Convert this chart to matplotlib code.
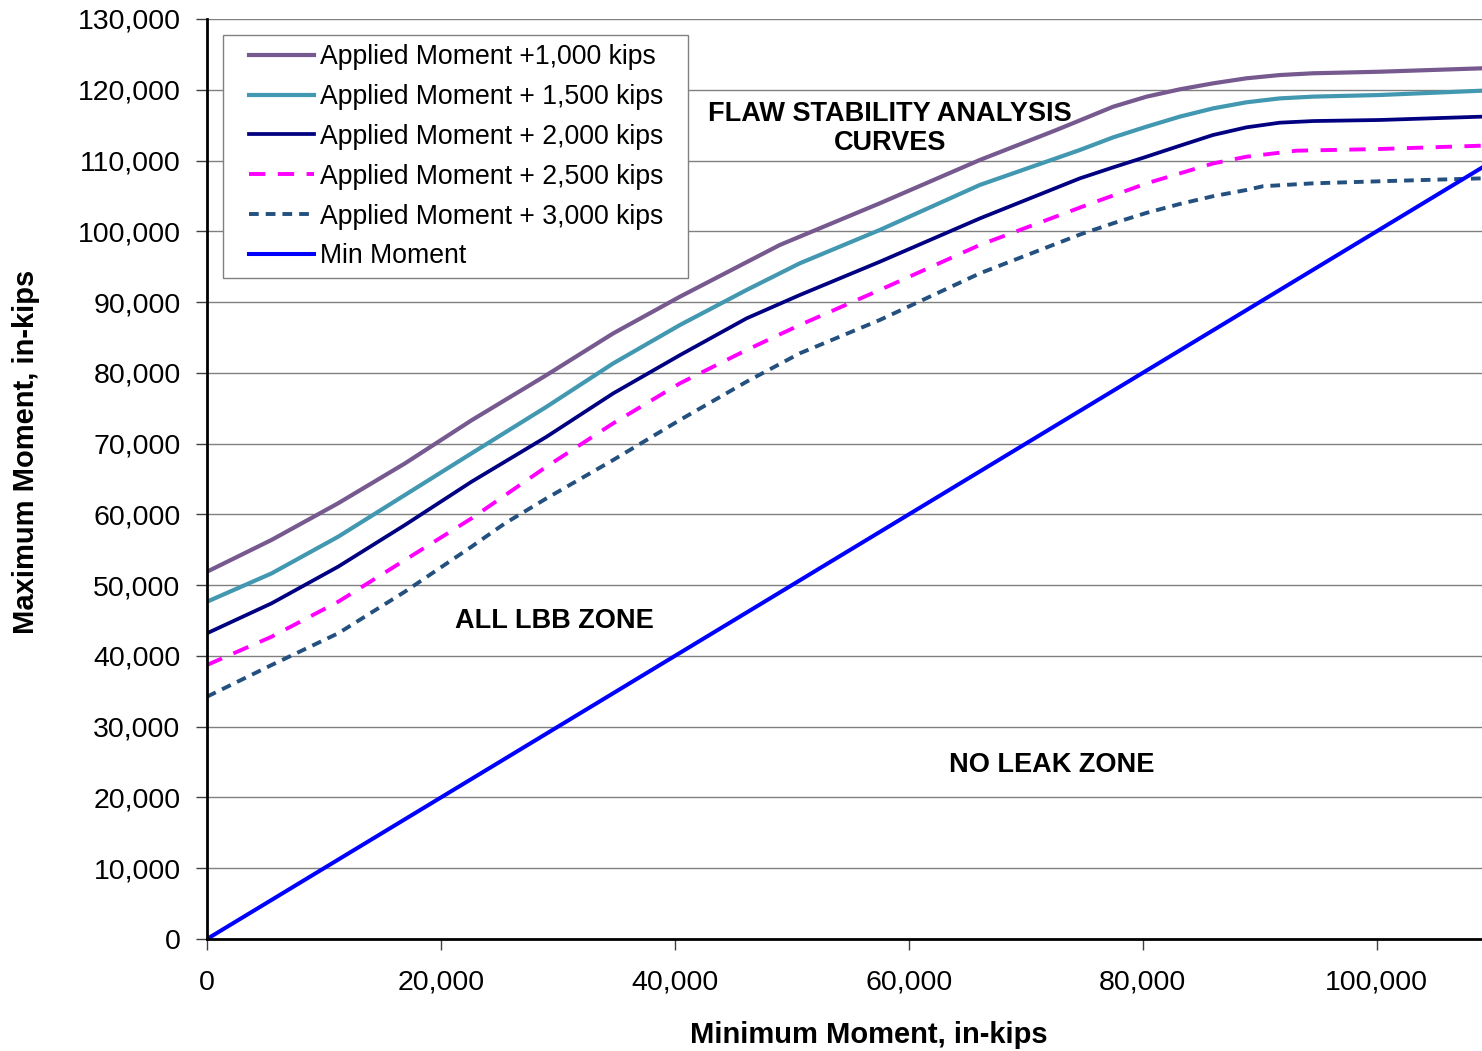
import matplotlib.pyplot as plt
from matplotlib.lines import Line2D
from matplotlib.legend_handler import HandlerLine2D
from matplotlib.ticker import FuncFormatter, MultipleLocator

plt.rcParams['font.family'] = ['Liberation Sans', 'DejaVu Sans']

# values (in-kips)
x_1000 = [0, 5530, 11200, 16920, 22620, 29030, 34730, 40430, 48970, 57520, 66070, 72620,
          77460, 80310, 83160, 86010, 88860, 91710, 94560, 100260, 108970]
y_1000 = [51900, 56400, 61560, 67200, 73300, 79690, 85580, 90760, 98070, 103960, 110080, 114320,
          117600, 119020, 120060, 120910, 121620, 122080, 122330, 122550, 123030]

x_1500 = [0, 5530, 11220, 16920, 22620, 29030, 34730, 40430, 46130, 50680, 57520, 66070,
          74620, 77460, 80310, 83160, 86010, 88860, 91710, 94560, 100260, 108970]
y_1500 = [47660, 51670, 56850, 62740, 68630, 75210, 81340, 86760, 91710, 95480, 100190, 106550,
          111490, 113270, 114780, 116200, 117370, 118230, 118780, 119030, 119260, 119870]

x_2000 = [0, 5530, 11220, 16920, 22620, 29030, 34730, 40430, 46130, 50680, 57520, 66070,
          74620, 77460, 80310, 83160, 86010, 88860, 91710, 94560, 100260, 108970]
y_2000 = [43200, 47440, 52620, 58500, 64620, 70970, 77100, 82500, 87700, 91000, 95700, 101820,
          107480, 109030, 110540, 112090, 113610, 114690, 115350, 115580, 115730, 116200]

x_2500 = [0, 5530, 11220, 16920, 22620, 29030, 34730, 40430, 46130, 50680, 57520, 66070,
          75190, 80310, 86010, 88860, 93130, 100260, 108970]
y_2500 = [38720, 42720, 47660, 53550, 59440, 66750, 72870, 78520, 83230, 86760, 91710, 98070,
          103700, 106770, 109590, 110540, 111390, 111630, 112100]

x_3000 = [0, 5530, 11220, 16920, 22620, 25470, 29030, 34730, 40430, 46130, 50680, 57520, 66070,
          74620, 77460, 80310, 83160, 86010, 88860, 90280, 94560, 100260, 108970]
y_3000 = [34240, 38720, 43200, 49080, 55440, 58730, 62270, 67690, 73340, 78750, 82760, 87470, 94060,
          99540, 101130, 102600, 103860, 104960, 105840, 106370, 106780, 107070, 107480]

x_min = [0, 109000]
y_min = [0, 109000]

labels = ['Applied Moment +1,000 kips', 'Applied Moment + 1,500 kips',
          'Applied Moment + 2,000 kips', 'Applied Moment + 2,500 kips',
          'Applied Moment + 3,000 kips', 'Min Moment']

fig = plt.figure(figsize=(14.82, 10.51), dpi=100)
ax = fig.add_axes([207/1482, 1-939/1051, 1-207/1482, (939-19)/1051])

ax.plot(x_1000, y_1000, color='#76598F', lw=3.0, label=labels[0])
ax.plot(x_1500, y_1500, color='#4298B0', lw=3.0, label=labels[1])
ax.plot(x_2000, y_2000, color='#000080', lw=2.7, label=labels[2])
ax.plot(x_2500, y_2500, color='#FF00FF', lw=2.8, dashes=(4.2, 3.2), label=labels[3])
ax.plot(x_3000, y_3000, color='#23507F', lw=2.8, dashes=(2.5, 1.8), label=labels[4])
ax.plot(x_min, y_min, color='#0000FF', lw=2.9, label=labels[5])

ax.set_xlim(0, 109000)
ax.set_ylim(0, 130000)
ax.xaxis.set_major_locator(MultipleLocator(20000))
ax.yaxis.set_major_locator(MultipleLocator(10000))
fmt = FuncFormatter(lambda v, p: f'{int(v):,}')
ax.xaxis.set_major_formatter(fmt)
ax.yaxis.set_major_formatter(fmt)
ax.tick_params(axis='both', direction='out', length=8, width=1, color='#404040', labelsize=20.5)
ax.tick_params(axis='x', pad=14)
ax.tick_params(axis='y', pad=11)

ax.grid(axis='y', color='#808080', lw=1)
ax.set_axisbelow(True)
for s in ['top', 'right']:
    ax.spines[s].set_visible(False)
for s in ['left', 'bottom']:
    ax.spines[s].set_linewidth(2)
    ax.spines[s].set_color('black')

ax.set_xlabel('Minimum Moment, in-kips', fontsize=21, fontweight='bold')
ax.set_ylabel('Maximum Moment, in-kips', fontsize=21, fontweight='bold')
ax.xaxis.set_label_coords(0.519, -0.089)
ax.yaxis.set_label_coords(-0.131, 0.530)

ax.text(58400, 114500, 'FLAW STABILITY ANALYSIS\nCURVES', ha='center', va='center',
        fontsize=19.5, fontweight='bold', linespacing=1.15)
ax.text(29700, 44900, 'ALL LBB ZONE', ha='center', va='center', fontsize=19.5, fontweight='bold')
ax.text(72200, 24600, 'NO LEAK ZONE', ha='center', va='center', fontsize=19.5, fontweight='bold')

leg = ax.legend(loc='upper left',
                bbox_to_anchor=(223/1482, 1-273/1051, (688-223)/1482, (273-35)/1051),
                bbox_transform=fig.transFigure, mode='expand',
                borderaxespad=0, fontsize=19.2, frameon=True, fancybox=False, edgecolor='#808080',
                handlelength=3.07, handletextpad=0.22, labelspacing=0.52, borderpad=0.34,
                framealpha=1, handler_map={Line2D: HandlerLine2D(xpad=0.64)})
leg.get_frame().set_linewidth(1)

fig.savefig('out.png', dpi=100)
